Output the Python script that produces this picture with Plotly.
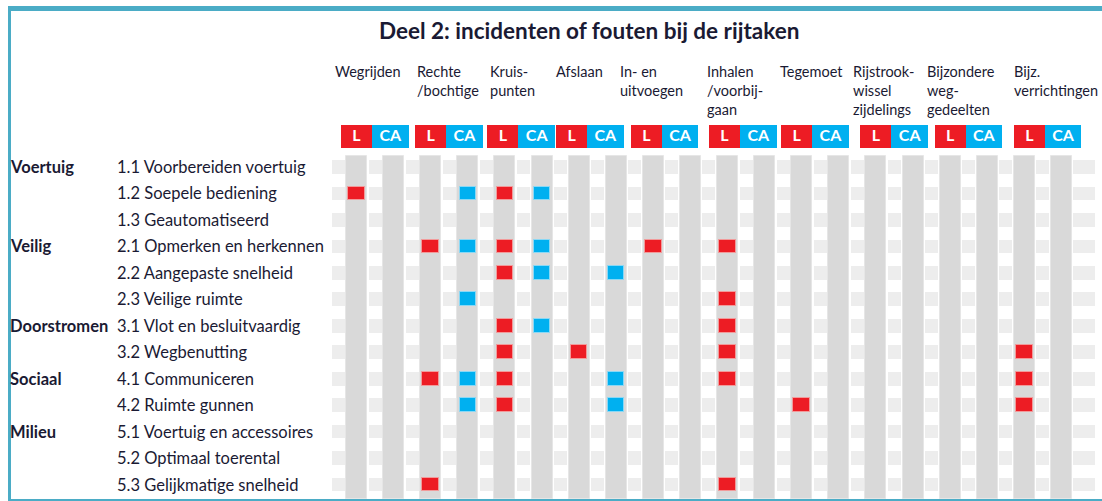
import plotly.graph_objects as go

# ---------------- data ----------------
rows = ["1.1", "1.2", "1.3", "2.1", "2.2", "2.3", "3.1", "3.2",
        "4.1", "4.2", "5.1", "5.2", "5.3"]
row_labels = ["Voorbereiden voertuig", "Soepele bediening", "Geautomatiseerd",
              "Opmerken en herkennen", "Aangepaste snelheid", "Veilige ruimte",
              "Vlot en besluitvaardig", "Wegbenutting", "Communiceren",
              "Ruimte gunnen", "Voertuig en accessoires", "Optimaal toerental",
              "Gelijkmatige snelheid"]
groups = ["Voertuig", "Veilig", "Doorstromen", "Sociaal", "Milieu"]
group_rows = ["1.1", "2.1", "3.1", "4.1", "5.1"]

tasks = ["Wegrijden", "Rechte<br>/bochtige", "Kruis-<br>punten", "Afslaan",
         "In- en<br>uitvoegen", "Inhalen<br>/voorbij-<br>gaan", "Tegemoet",
         "Rijstrook-<br>wissel<br>zijdelings", "Bijzondere<br>weg-<br>gedeelten",
         "Bijz.<br>verrichtingen"]
subcols = ["L", "CA"]

# rows with an incident/fout per task, for L and CA
fouten_L = [
    ["1.2"],
    ["2.1", "4.1", "5.3"],
    ["1.2", "2.1", "2.2", "3.1", "3.2", "4.1", "4.2"],
    ["3.2"],
    ["2.1"],
    ["2.1", "2.3", "3.1", "3.2", "4.1", "5.3"],
    ["4.2"],
    [],
    [],
    ["3.2", "4.1", "4.2"],
]
fouten_CA = [
    [],
    ["1.2", "2.1", "2.3", "4.1", "4.2"],
    ["1.2", "2.1", "2.2", "3.1"],
    ["2.2", "4.1", "4.2"],
    [], [], [], [], [], [],
]

title = "Deel 2: incidenten of fouten bij de rijtaken"

# ---------------- layout geometry / style ----------------
W, H = 1102, 501
COL0_PX, COL_PITCH = 356.5, 37.1
ROW0_PX, ROW_PITCH = 167.0, 26.46
X0, X1 = -COL0_PX / COL_PITCH, (W - COL0_PX) / COL_PITCH
YT, YB = -ROW0_PX / ROW_PITCH, (H - ROW0_PX) / ROW_PITCH


def xd(px):
    return (px - COL0_PX) / COL_PITCH


def yd(px):
    return (px - ROW0_PX) / ROW_PITCH


RED, BLUE = "#ED1C24", "#00B0F0"
COL_GRAY, CELL_GRAY = "#D9D9D9", "#EDEDED"
BORDER = "#4BACC6"
TXT = "#1a1a33"
FONT = "Lato"
HDR_DX = [-24, -16, -17, -25, -35, -23, -24, -25, -25, -12]      # header label nudges (px)
BOX_DX = [0, 0, -2, -7.5, -7, -3, -5, 0, 0, 5]                    # L/CA box nudges (px)

ncols = len(tasks) * len(subcols)
col_x = list(range(ncols))
ri = {r: i for i, r in enumerate(rows)}

fig = go.Figure()

# tall gray columns
fig.add_trace(go.Bar(
    x=col_x, base=[yd(156)] * ncols, y=[yd(499) - yd(156)] * ncols,
    width=21 / COL_PITCH, marker=dict(color=COL_GRAY, line=dict(color="#E6E6E6", width=1)),
    hoverinfo="skip"))

# light row cells between the columns
gap_x = [xd(338.5)] + [k + 0.5 for k in range(ncols - 1)] + [xd(1084)]
gap_w = [13 / COL_PITCH] * ncols + [22 / COL_PITCH]
cx, cb, cw = [], [], []
for i in range(len(rows)):
    for gx, gw in zip(gap_x, gap_w):
        cx.append(gx)
        cb.append(i - 0.26)
        cw.append(gw)
fig.add_trace(go.Bar(
    x=cx, base=cb, y=[0.52] * len(cx), width=cw,
    marker=dict(color=CELL_GRAY, line=dict(width=0)), hoverinfo="skip"))

# incident markers
for s, (series, color, edge) in enumerate([(fouten_L, RED, "#F29A9A"),
                                           (fouten_CA, BLUE, "#8AD8F5")]):
    mx, mb = [], []
    for k, rl in enumerate(series):
        for r in rl:
            mx.append(2 * k + s)
            mb.append(ri[r] - 0.26)
    fig.add_trace(go.Bar(
        x=mx, base=mb, y=[0.52] * len(mx), width=16.5 / COL_PITCH,
        marker=dict(color=color, line=dict(color=edge, width=1)),
        name=subcols[s], hoverinfo="skip"))

# L / CA header boxes
L_W, CA_W = 31 / COL_PITCH, 36.5 / COL_PITCH
hb, hh = yd(125), 23 / ROW_PITCH
l_x = [2 * k + BOX_DX[k] / COL_PITCH for k in range(len(tasks))]
ca_x = [lx + L_W / 2 + CA_W / 2 for lx in l_x]
fig.add_trace(go.Bar(x=l_x, base=[hb] * len(l_x), y=[hh] * len(l_x),
                     width=L_W, marker=dict(color=RED, line=dict(width=0)),
                     hoverinfo="skip"))
fig.add_trace(go.Bar(x=ca_x, base=[hb] * len(ca_x), y=[hh] * len(ca_x),
                     width=CA_W, marker=dict(color=BLUE, line=dict(width=0)),
                     hoverinfo="skip"))
fig.add_trace(go.Scatter(
    x=l_x + ca_x, y=[yd(137)] * (2 * len(tasks)),
    text=[subcols[0]] * len(tasks) + [subcols[1]] * len(tasks),
    mode="text", textposition="middle center",
    textfont=dict(family=FONT, size=16, color="white", weight="bold"),
    hoverinfo="skip"))

annotations = []
# title
annotations.append(dict(text=title, x=589 / W, y=1 - 30 / H, xref="paper", yref="paper",
                        xanchor="center", yanchor="middle", showarrow=False,
                        font=dict(family=FONT, size=22.5, color=TXT, weight="bold")))
# task headers
for k, t in enumerate(tasks):
    annotations.append(dict(text=t, x=2 * k, y=yd(61), xref="x", yref="y",
                            xanchor="left", yanchor="top", xshift=HDR_DX[k],
                            align="left", showarrow=False,
                            font=dict(family=FONT, size=14.5, color=TXT)))
# row labels
for i, (r, lab) in enumerate(zip(rows, row_labels)):
    annotations.append(dict(text=f"{r} {lab}", x=115 / W, y=i, xref="paper", yref="y",
                            xanchor="left", yanchor="middle", showarrow=False,
                            font=dict(family=FONT, size=16.5, color=TXT)))
# group labels
for g, r in zip(groups, group_rows):
    annotations.append(dict(text=g, x=8 / W, y=ri[r], xref="paper", yref="y",
                            xanchor="left", yanchor="middle", showarrow=False,
                            font=dict(family=FONT, size=16.5, color=TXT, weight="bold")))

shapes = [
    dict(type="line", xref="paper", yref="paper", x0=8 / W, x1=1.0,
         y0=1 - 8.5 / H, y1=1 - 8.5 / H, line=dict(color=BORDER, width=5)),
    dict(type="line", xref="paper", yref="paper", x0=9.5 / W, x1=9.5 / W,
         y0=1 - 6 / H, y1=0, line=dict(color=BORDER, width=3)),
    dict(type="line", xref="paper", yref="paper", x0=8 / W, x1=1.0,
         y0=1 - 500 / H, y1=1 - 500 / H, line=dict(color=BORDER, width=2)),
]

fig.update_layout(
    width=W, height=H, margin=dict(l=0, r=0, t=0, b=0),
    paper_bgcolor="white", plot_bgcolor="white",
    barmode="overlay", showlegend=False, bargap=0,
    xaxis=dict(range=[X0, X1], visible=False, fixedrange=True),
    yaxis=dict(range=[YB, YT], visible=False, fixedrange=True),
    annotations=annotations, shapes=shapes,
)

fig.write_html("out.html", config={"displayModeBar": False},
               post_script="document.body.style.margin='0';")
